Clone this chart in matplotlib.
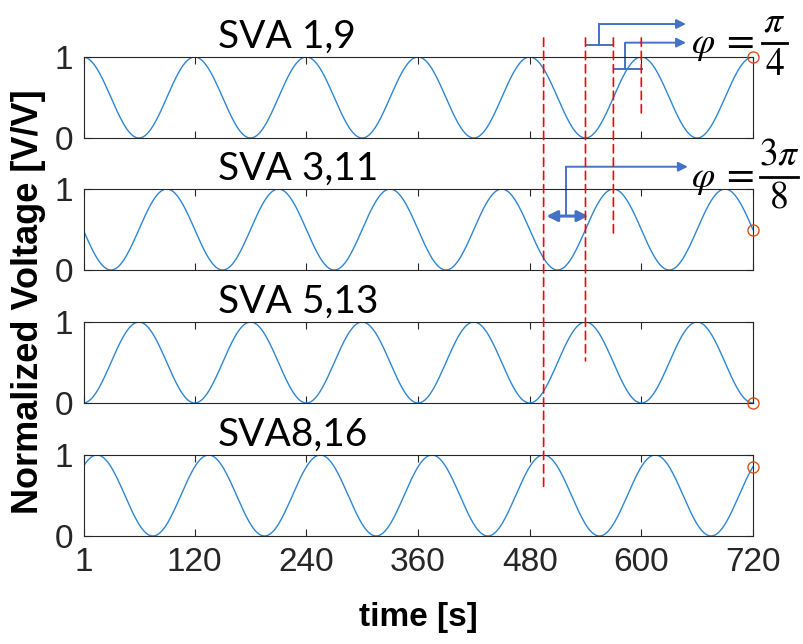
import numpy as np
import matplotlib
matplotlib.use("Agg")
import matplotlib.pyplot as plt
from matplotlib.patches import ConnectionPatch
from matplotlib.lines import Line2D

# data
names = ["SVA 1,9", "SVA 3,11", "SVA 5,13", "SVA8,16"]
period = 120                       # seconds, same for every channel
peak_times = [0, 90, 60, 15]       # time of a maximum for each channel
t = np.arange(1, 721)
xticks = [1, 120, 240, 360, 480, 600, 720]

# red guides: time, panel where they stop, value where they stop
guide_t = [495, 540, 570, 600]
guide_panel = [3, 2, 1, 0]
guide_end = [0.61, 0.52, 0.44, 0.26]

# phase labels
phase_num = [r"$\pi$", r"$3\pi$"]
phase_den = ["4", "8"]

blue = "#2E86D1"
orange = "#D95319"
grey = "#262626"
arrow_blue = "#4472C4"
tick_font = ["Liberation Sans Narrow", "Liberation Sans"]

plt.rcParams["mathtext.fontset"] = "stix"

W, H = 804, 644
fig = plt.figure(figsize=(W / 100, H / 100), dpi=100)


def fx(px):
    return px / W


def fy(py):
    return 1 - py / H


bottoms = [0.7857, 0.5807, 0.3742, 0.1677]
axes = []
for i, name in enumerate(names):
    ax = fig.add_axes([0.1045, bottoms[i], 0.832, 0.1258])
    axes.append(ax)
    y = 0.5 * (1 + np.cos(2 * np.pi * (t - peak_times[i]) / period))
    ax.plot(t, y, color=blue, lw=1.0)
    ax.plot(t[-1], y[-1], "o", mfc="none", mec=orange, ms=8, mew=1,
            clip_on=False, zorder=5)
    ax.set_xlim(1, 720)
    ax.set_ylim(0, 1)
    ax.set_xticks(xticks)
    ax.set_yticks([0, 1])
    ax.tick_params(direction="in", length=5, top=True, right=True,
                   colors=grey, labelsize=24, pad=8)
    for lab in ax.get_yticklabels() + ax.get_xticklabels():
        lab.set_family(tick_font)
    for s in ax.spines.values():
        s.set_color(grey)
        s.set_linewidth(0.8)
    if i < 3:
        ax.set_xticklabels([])
    ax.text(0.2, 1.11, name, transform=ax.transAxes, fontsize=28,
            family="Lato", va="baseline", ha="left")

axes[-1].set_xlabel("time [s]", fontsize=24, fontweight="bold",
                    family="Liberation Sans", labelpad=17)
fig.text(0.035, 0.532, "Normalized Voltage [V/V]", rotation=90, va="center",
         ha="center", fontsize=26, fontweight="bold", family="Liberation Sans")

# red dashed guide lines spanning panels
for gt, p, e in zip(guide_t, guide_panel, guide_end):
    con = ConnectionPatch(xyA=(gt, 1.235), coordsA=axes[0].transData,
                          xyB=(gt, e), coordsB=axes[p].transData,
                          color="#FF0000", ls=(0, (5, 3)), lw=1.2, zorder=6)
    fig.add_artist(con)

# blue phase brackets
a0, a1 = axes[0], axes[1]
kw = dict(color=arrow_blue, lw=1.4, clip_on=False)
head = dict(arrowstyle="-|>", color=arrow_blue, lw=1.4, shrinkA=0,
            shrinkB=0, mutation_scale=14)
a0.plot([541, 570], [1.148, 1.148], **kw)
a0.plot([555, 555], [1.148, 1.407], **kw)
a0.annotate("", xy=(648, 1.407), xytext=(555, 1.407), arrowprops=head,
            annotation_clip=False)
a0.plot([572, 601], [0.852, 0.852], **kw)
a0.plot([583, 583], [0.852, 1.177], **kw)
a0.annotate("", xy=(648, 1.177), xytext=(583, 1.177), arrowprops=head,
            annotation_clip=False)

a1.annotate("", xy=(543, 0.666), xytext=(498, 0.666),
            arrowprops=dict(arrowstyle="<|-|>", color=arrow_blue, lw=2.2,
                            shrinkA=0, shrinkB=0, mutation_scale=16),
            annotation_clip=False)
a1.plot([519, 519], [0.666, 1.275], **kw)
a1.annotate("", xy=(650, 1.275), xytext=(519, 1.275), arrowprops=head,
            annotation_clip=False)

# "phi = fraction" labels built from pieces
label_y = [43, 177]          # pixel row of the fraction bar
bar_x = [(762, 787), (760, 798)]
for k in range(2):
    yb = label_y[k]
    x0, x1 = bar_x[k]
    fig.text(fx(703), fy(yb + 2), r"$\varphi$", fontsize=27,
             ha="center", va="center")
    fig.text(fx(740), fy(yb), "=", fontsize=29, family="STIXGeneral",
             ha="center", va="center")
    fig.add_artist(Line2D([fx(x0), fx(x1)], [fy(yb), fy(yb)], color="black",
                          lw=2.0, transform=fig.transFigure))
    xc = (x0 + x1) / 2
    fig.text(fx(xc), fy(yb - 4), phase_num[k], fontsize=27, ha="center",
             va="bottom")
    fig.text(fx(xc), fy(yb + 5), phase_den[k], fontsize=27,
             family="STIXGeneral", ha="center", va="top")

fig.savefig("out.png", dpi=100)
